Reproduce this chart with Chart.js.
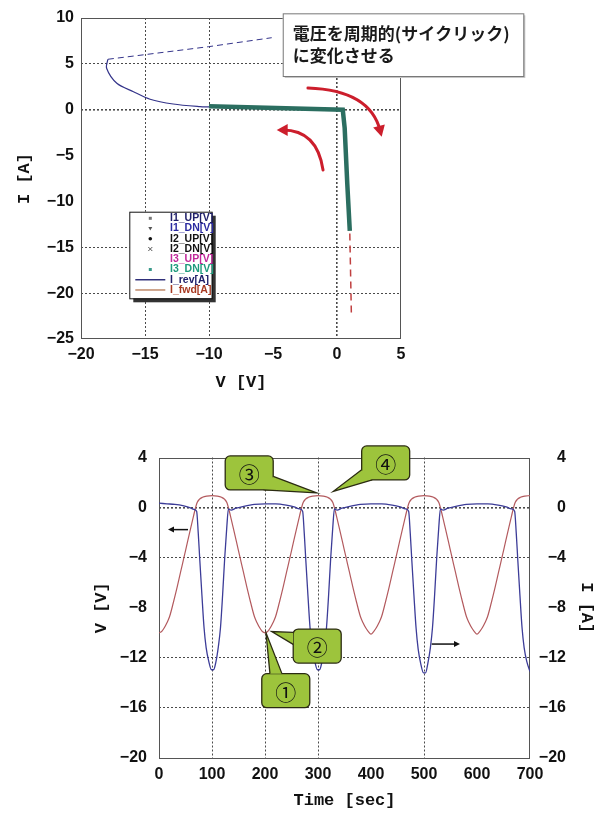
<!DOCTYPE html>
<html lang="ja">
<head>
<meta charset="utf-8">
<title>Cyclic I-V sweep</title>
<script src="https://cdn.jsdelivr.net/npm/chart.js@4.4.1/dist/chart.umd.min.js"></script>
<style>
  html, body { margin: 0; padding: 0; background: #fff; }
  body { position: relative; width: 599px; height: 814px; overflow: hidden; }
  canvas { position: absolute; left: 0; }
  #ivChart { top: 0; }
  #timeChart { top: 430px; }
</style>
</head>
<body>
<canvas id="ivChart" width="599" height="400"></canvas>
<canvas id="timeChart" width="599" height="384"></canvas>
<script>
// ── I-V sweep data (top chart) ─────────────────────────────────────────
const revV  = [-10.0, -10.7, -12.8, -14.6, -15.9, -17.2, -18.0, -17.9];
const revI  = [0.30, 0.33, 0.62, 1.14, 1.96, 2.88, 4.52, 5.50];
const backV = [-17.9, -10.05, -5.1];
const backI = [5.50, 6.87, 7.85];
const dnV   = [-10.0, -7.0, -4.0, -1.0, 0.45, 0.6, 0.8, 1.0];
const dnI   = [0.38, 0.26, 0.15, 0.05, 0.0, -2.0, -8.0, -13.2];
const fwdV  = [1.0, 1.05, 1.12];
const fwdI  = [-13.5, -17.0, -22.1];
const ivLegend  = ['I1_UP[V]', 'I1_DN[V]', 'I2_UP[V]', 'I2_DN[V]', 'I3_UP[V]', 'I3_DN[V]', 'I_rev[A]', 'I_fwd[A]'];
const noteLines = ['電圧を周期的(サイクリック)', 'に変化させる'];

// ── Time series data (bottom chart) ────────────────────────────────────
const timeV = [
  0, 5, 10, 15, 20, 27, 34, 41, 47, 54, 60, 65, 69, 72, 76, 82, 90, 100,
  110, 118, 124, 128, 131, 135, 140, 146, 153, 159, 166, 173, 180, 185, 190, 195,
  200, 205, 210, 215, 220, 227, 234, 241, 247, 254, 260, 265, 269, 272, 276, 282, 290, 300,
  310, 318, 324, 328, 331, 335, 340, 346, 353, 359, 366, 373, 380, 385, 390, 395,
  400, 405, 410, 415, 420, 427, 434, 441, 447, 454, 460, 465, 469, 472, 476, 482, 490, 500,
  510, 518, 524, 528, 531, 535, 540, 546, 553, 559, 566, 573, 580, 585, 590, 595,
  600, 605, 610, 615, 620, 627, 634, 641, 647, 654, 660, 665, 669, 672, 676, 682, 690, 700
];
const voltV = [
  -10.0, -9.9, -9.6, -9.2, -8.7, -7.6, -6.4, -5.1, -4.0, -2.7, -1.6, -0.7, 0.0, 0.4, 0.65, 0.82, 0.92, 0.95,
  0.92, 0.82, 0.65, 0.4, 0.0, -0.7, -1.6, -2.7, -4.0, -5.1, -6.4, -7.6, -8.7, -9.2, -9.6, -9.9,
  -10.0, -9.9, -9.6, -9.2, -8.7, -7.6, -6.4, -5.1, -4.0, -2.7, -1.6, -0.7, 0.0, 0.4, 0.65, 0.82, 0.92, 0.95,
  0.92, 0.82, 0.65, 0.4, 0.0, -0.7, -1.6, -2.7, -4.0, -5.1, -6.4, -7.6, -8.7, -9.2, -9.6, -9.9,
  -10.1, -9.9, -9.6, -9.2, -8.7, -7.6, -6.4, -5.1, -4.0, -2.7, -1.6, -0.7, 0.0, 0.4, 0.65, 0.82, 0.92, 0.95,
  0.92, 0.82, 0.65, 0.4, 0.0, -0.7, -1.6, -2.7, -4.0, -5.1, -6.4, -7.6, -8.7, -9.2, -9.6, -9.9,
  -10.1, -9.9, -9.6, -9.2, -8.7, -7.6, -6.4, -5.1, -4.0, -2.7, -1.6, -0.7, 0.0, 0.4, 0.65, 0.82, 0.92, 0.95
];
const timeI = [
  0, 15, 30, 45, 58, 66, 71,
  74, 77, 81, 85, 89, 94, 99, 103, 107, 112, 116, 120, 124, 128, 131,
  136, 145, 160, 180, 200, 220, 240, 255, 265, 271,
  274, 277, 281, 285, 289, 294, 299, 303, 307, 312, 316, 320, 324, 328, 331,
  336, 345, 360, 380, 400, 420, 440, 455, 465, 471,
  474, 477, 481, 485, 489, 494, 499, 503, 507, 512, 516, 520, 524, 528, 531,
  536, 545, 560, 580, 600, 620, 640, 655, 665, 671,
  674, 677, 681, 685, 689, 694, 700
];
const currI = [
  0.35, 0.3, 0.25, 0.15, 0.0, -0.15, -0.3,
  -2.0, -4.2, -7.0, -9.6, -11.2, -12.3, -12.95, -12.95, -12.4, -11.1, -9.6, -7.0, -4.0, -1.5, -0.1,
  -0.2, -0.05, 0.1, 0.25, 0.3, 0.3, 0.2, 0.05, -0.1, -0.3,
  -2.0, -4.2, -7.0, -9.6, -11.2, -12.3, -12.95, -12.95, -12.4, -11.1, -9.6, -7.0, -4.0, -1.5, -0.1,
  -0.2, -0.05, 0.1, 0.25, 0.3, 0.3, 0.2, 0.05, -0.1, -0.3,
  -2.0, -4.2, -7.0, -9.6, -11.3, -12.5, -13.2, -13.2, -12.5, -11.2, -9.6, -7.0, -4.0, -1.5, -0.1,
  -0.2, -0.05, 0.1, 0.25, 0.3, 0.3, 0.2, 0.05, -0.1, -0.3,
  -2.0, -4.2, -7.0, -9.6, -11.2, -12.3, -13.1
];

// ── Annotations ────────────────────────────────────────────────────────
const sweepArrows = [                       // [start, control, end] in (V, I)
  [[-2.27, 2.37], [2.58, 2.15], [3.49, -2.94]],
  [[-1.09, -6.57], [-1.56, -2.21], [-4.71, -2.21]],
];
const callouts = [                          // box centre and pointer tip in (t, V)
  { text: '③', at: [170.2, 2.77],   tip: [297.5, 1.18],  base: [[1, 0.6], [0.8, 1]] },
  { text: '④', at: [427.7, 3.57],   tip: [329, 1.3],     base: [[0, 0.7], [0.22, 1]] },
  { text: '②', at: [298.5, -11.06], tip: [212.6, -9.9],  base: [[0, 0.1], [0, 0.45]] },
  { text: '①', at: [239.2, -14.62], tip: [201.9, -10.0], base: [[0.17, 0], [0.42, 0]] },
];
const sideArrows = [                        // from, to in (t, V)
  [[54.7, -1.76], [17, -1.76]],
  [[514.5, -10.9], [567.9, -10.9]],
];

// ── Helpers ────────────────────────────────────────────────────────────
const TICK_FONT  = { family: "'Liberation Sans Narrow', 'Arial Narrow', sans-serif", size: 16, weight: 'bold' };
const TITLE_FONT = { family: "'Liberation Mono', 'DejaVu Sans Mono', monospace", size: 17, weight: 'bold' };
const GRID_DASH  = [2, 2];

function pts(xs, ys) { return xs.map((x, i) => ({ x, y: ys[i] })); }
function minusFmt(v) { return v < 0 ? '\u2212' + Math.abs(v) : String(v); }

function gridAt(vals) {
  return {
    drawTicks: false,
    color: c => (c.tick && vals.includes(c.tick.value)) ? '#4a4a4a' : 'rgba(0,0,0,0)',
    lineWidth: c => (c.tick && c.tick.value === 0 ? 1.6 : 1),
  };
}

function arrowHead(ctx, x, y, ang, len, half) {
  const c = Math.cos(ang), s = Math.sin(ang);
  ctx.beginPath();
  ctx.moveTo(x, y);
  ctx.lineTo(x - len * c + half * s, y - len * s - half * c);
  ctx.lineTo(x - len * c - half * s, y - len * s + half * c);
  ctx.closePath();
  ctx.fill();
}

const frame = {
  id: 'frame',
  beforeDatasetsDraw(chart) {
    const { ctx, chartArea: a } = chart;
    ctx.save();
    ctx.strokeStyle = '#555';
    ctx.lineWidth = 1;
    ctx.strokeRect(Math.round(a.left) + 0.5, Math.round(a.top) + 0.5, Math.round(a.width) - 1, Math.round(a.height) - 1);
    ctx.restore();
  }
};

// ── Top chart notes: legend, note box, red arrows ──────────────────────
const LEG_STYLE = [
  { color: '#20206a', mark: 'sq' },
  { color: '#2a2aa0', mark: 'tri' },
  { color: '#111111', mark: 'dot' },
  { color: '#111111', mark: 'x' },
  { color: '#c0289a', mark: null },
  { color: '#1d9a7c', mark: 'sq' },
  { color: '#20206a', line: '#30307a' },
  { color: '#a83a22', line: '#c08a6a' },
];

const ivNotes = {
  id: 'ivNotes',
  afterDraw(chart) {
    const { ctx, chartArea: a, scales: { x, y } } = chart;
    ctx.save();

    // legend box
    const lx = a.left + 48.3, ly = a.top + 193.7, lw = 82.4, lh = 86.6;
    ctx.fillStyle = '#333';
    ctx.fillRect(lx + 4, ly + 4, lw, lh);
    ctx.fillStyle = '#fff';
    ctx.fillRect(lx, ly, lw, lh);
    ctx.strokeStyle = '#111';
    ctx.lineWidth = 1;
    ctx.strokeRect(lx + 0.5, ly + 0.5, lw, lh);
    ctx.font = "bold 10.5px 'Liberation Sans Narrow', 'Arial Narrow', sans-serif";
    ctx.textBaseline = 'middle';
    ivLegend.forEach((lab, i) => {
      const st = LEG_STYLE[i];
      const ry = ly + 6.6 + i * 10.24;
      const mx = lx + 21;
      ctx.fillStyle = '#555';
      ctx.strokeStyle = '#555';
      if (st.mark === 'sq') { ctx.fillStyle = st.color === '#1d9a7c' ? '#3a9a8a' : '#777'; ctx.fillRect(mx - 1.5, ry - 1.5, 3, 3); }
      if (st.mark === 'tri') { ctx.beginPath(); ctx.moveTo(mx - 2, ry - 1.5); ctx.lineTo(mx + 2, ry - 1.5); ctx.lineTo(mx, ry + 2); ctx.closePath(); ctx.fill(); }
      if (st.mark === 'dot') { ctx.fillStyle = '#111'; ctx.beginPath(); ctx.arc(mx, ry, 1.8, 0, Math.PI * 2); ctx.fill(); }
      if (st.mark === 'x') { ctx.beginPath(); ctx.moveTo(mx - 2, ry - 2); ctx.lineTo(mx + 2, ry + 2); ctx.moveTo(mx + 2, ry - 2); ctx.lineTo(mx - 2, ry + 2); ctx.stroke(); }
      if (st.line) {
        ctx.strokeStyle = st.line;
        ctx.lineWidth = 1.5;
        ctx.beginPath(); ctx.moveTo(lx + 6, ry); ctx.lineTo(lx + 36, ry); ctx.stroke();
        ctx.lineWidth = 1;
      }
      ctx.fillStyle = st.color;
      ctx.fillText(lab, lx + 40.7, ry);
    });

    // note box
    const nx = x.getPixelForValue(-4.24), ny = y.getPixelForValue(10.51);
    const nw = 240.6, nh = 62.7;
    ctx.fillStyle = '#c8c8c8';
    ctx.fillRect(nx + 2, ny + 2, nw, nh);
    ctx.fillStyle = '#fff';
    ctx.fillRect(nx, ny, nw, nh);
    ctx.strokeStyle = '#777';
    ctx.strokeRect(nx + 0.5, ny + 0.5, nw, nh);
    ctx.fillStyle = '#1a1a1a';
    ctx.font = "bold 17px 'Noto Sans CJK JP', sans-serif";
    ctx.textBaseline = 'middle';
    ctx.fillText(noteLines[0], nx + 10, ny + 20);
    ctx.fillText(noteLines[1], nx + 10, ny + 42);

    // red sweep arrows
    ctx.strokeStyle = '#cc1e2c';
    ctx.fillStyle = '#cc1e2c';
    ctx.lineWidth = 3;
    ctx.lineCap = 'round';
    sweepArrows.forEach(([p0, p1, p2]) => {
      const x0 = x.getPixelForValue(p0[0]), y0 = y.getPixelForValue(p0[1]);
      const x1 = x.getPixelForValue(p1[0]), y1 = y.getPixelForValue(p1[1]);
      const x2 = x.getPixelForValue(p2[0]), y2 = y.getPixelForValue(p2[1]);
      const ang = Math.atan2(y2 - y1, x2 - x1);
      ctx.beginPath();
      ctx.moveTo(x0, y0);
      ctx.quadraticCurveTo(x1, y1, x2 - 6 * Math.cos(ang), y2 - 6 * Math.sin(ang));
      ctx.stroke();
      arrowHead(ctx, x2, y2, ang, 11, 6);
    });
    ctx.restore();
  }
};

// ── Bottom chart notes: callouts and side arrows ───────────────────────
const timeNotes = {
  id: 'timeNotes',
  afterDraw(chart) {
    const { ctx, scales: { x, yV } } = chart;
    ctx.save();
    const w = 48, h = 34;
    callouts.forEach(c => {
      const cx = x.getPixelForValue(c.at[0]), cy = yV.getPixelForValue(c.at[1]);
      const tx = x.getPixelForValue(c.tip[0]), ty = yV.getPixelForValue(c.tip[1]);
      const bl = cx - w / 2, bt = cy - h / 2;
      const b1 = [bl + c.base[0][0] * w, bt + c.base[0][1] * h];
      const b2 = [bl + c.base[1][0] * w, bt + c.base[1][1] * h];
      ctx.fillStyle = '#9dc43c';
      ctx.strokeStyle = '#2b2b12';
      ctx.lineWidth = 1.3;
      ctx.beginPath();
      ctx.roundRect(bl, bt, w, h, 5);
      ctx.fill();
      ctx.stroke();
      ctx.beginPath();
      ctx.moveTo(b1[0], b1[1]); ctx.lineTo(tx, ty); ctx.lineTo(b2[0], b2[1]); ctx.closePath();
      ctx.fill();
      ctx.beginPath();
      ctx.moveTo(b1[0], b1[1]); ctx.lineTo(tx, ty); ctx.lineTo(b2[0], b2[1]);
      ctx.stroke();
      ctx.fillStyle = '#111';
      ctx.font = "21px 'Noto Sans CJK JP', sans-serif";
      ctx.textAlign = 'center';
      ctx.textBaseline = 'middle';
      ctx.fillText(c.text, cx, cy + 1);
    });
    ctx.strokeStyle = '#111';
    ctx.fillStyle = '#111';
    ctx.lineWidth = 1.5;
    sideArrows.forEach(([p0, p1]) => {
      const x0 = x.getPixelForValue(p0[0]), y0 = yV.getPixelForValue(p0[1]);
      const x1 = x.getPixelForValue(p1[0]), y1 = yV.getPixelForValue(p1[1]);
      const ang = Math.atan2(y1 - y0, x1 - x0);
      ctx.beginPath();
      ctx.moveTo(x0, y0);
      ctx.lineTo(x1 - 4 * Math.cos(ang), y1 - 4 * Math.sin(ang));
      ctx.stroke();
      arrowHead(ctx, x1, y1, ang, 6, 3);
    });
    ctx.restore();
  }
};

// ── Top chart: I-V ─────────────────────────────────────────────────────
new Chart(document.getElementById('ivChart'), {
  type: 'scatter',
  data: {
    datasets: [
      { label: 'I3_DN[V]', data: pts(dnV, dnI), showLine: true, borderColor: '#2b6e60', borderWidth: 4.5, pointRadius: 0 },
      { label: 'I_rev[A]', data: pts(revV, revI), showLine: true, borderColor: '#34348a', borderWidth: 1.2, pointRadius: 0, tension: 0.3 },
      { label: 'I_rev back', data: pts(backV, backI), showLine: true, borderColor: '#34348a', borderWidth: 1, borderDash: [6, 4], pointRadius: 0 },
      { label: 'I_fwd[A]', data: pts(fwdV, fwdI), showLine: true, borderColor: '#c04040', borderWidth: 1.5, borderDash: [7, 5], pointRadius: 0 },
    ]
  },
  options: {
    responsive: false,
    animation: false,
    devicePixelRatio: 1,
    layout: { padding: { left: 0, top: 18, right: 198, bottom: 0 } },
    plugins: { legend: { display: false }, tooltip: { enabled: false } },
    scales: {
      x: {
        type: 'linear', min: -20, max: 5,
        ticks: { stepSize: 5, padding: 6, font: TICK_FONT, color: '#111', maxRotation: 0, callback: minusFmt },
        grid: gridAt([-15, -10, 0]),
        border: { display: false, dash: GRID_DASH },
        title: { display: true, text: 'V [V]', font: TITLE_FONT, color: '#111', padding: { top: 0, bottom: 6.8 } },
        afterFit: s => { s.height = 61; },
      },
      y: {
        type: 'linear', min: -25, max: 10,
        ticks: { stepSize: 5, padding: 7, font: TICK_FONT, color: '#111', callback: minusFmt },
        grid: gridAt([5, 0, -15, -20]),
        border: { display: false, dash: GRID_DASH },
        title: { display: true, text: 'I [A]', font: TITLE_FONT, color: '#111', padding: { top: 14.3, bottom: 0 } },
        afterFit: s => { s.width = 81; },
      },
    },
  },
  plugins: [frame, ivNotes],
});

// ── Bottom chart: V and I against time ─────────────────────────────────
new Chart(document.getElementById('timeChart'), {
  type: 'line',
  data: {
    datasets: [
      { label: 'I [A]', data: pts(timeI, currI), yAxisID: 'yI', borderColor: '#3c3c98', borderWidth: 1.3, pointRadius: 0, cubicInterpolationMode: 'monotone' },
      { label: 'V [V]', data: pts(timeV, voltV), yAxisID: 'yV', borderColor: '#b35a5e', borderWidth: 1.2, pointRadius: 0, cubicInterpolationMode: 'monotone' },
    ]
  },
  options: {
    responsive: false,
    animation: false,
    devicePixelRatio: 1,
    layout: { padding: { left: 0, top: 27.5, right: 33, bottom: 0 } },
    plugins: { legend: { display: false }, tooltip: { enabled: false } },
    scales: {
      x: {
        type: 'linear', min: 0, max: 700,
        ticks: { stepSize: 100, padding: 7, font: TICK_FONT, color: '#111', maxRotation: 0 },
        grid: gridAt([100, 200, 300, 500]),
        border: { display: false, dash: GRID_DASH },
        title: { display: true, text: 'Time [sec]', font: TITLE_FONT, color: '#111', padding: { top: 0, bottom: 2.8 } },
        afterFit: s => { s.height = 56; },
      },
      yV: {
        type: 'linear', position: 'left', min: -20, max: 4,
        ticks: { stepSize: 4, padding: 12, font: TICK_FONT, color: '#111', callback: minusFmt },
        grid: gridAt([0, -4, -12, -16]),
        border: { display: false, dash: GRID_DASH },
        title: { display: true, text: 'V [V]', font: TITLE_FONT, color: '#111', padding: { top: 91.8, bottom: 0 } },
        afterFit: s => { s.width = 159; },
      },
      yI: {
        type: 'linear', position: 'right', min: -20, max: 4,
        ticks: { stepSize: 4, padding: 8, crossAlign: 'far', font: TICK_FONT, color: '#111', callback: minusFmt },
        grid: { display: false, drawTicks: false },
        border: { display: false },
        title: { display: true, text: 'I [A]', font: TITLE_FONT, color: '#111', padding: { top: -30.9, bottom: 0 } },
        afterFit: s => { s.width = 36; },
      },
    },
  },
  plugins: [frame, timeNotes],
});
</script>
</body>
</html>
